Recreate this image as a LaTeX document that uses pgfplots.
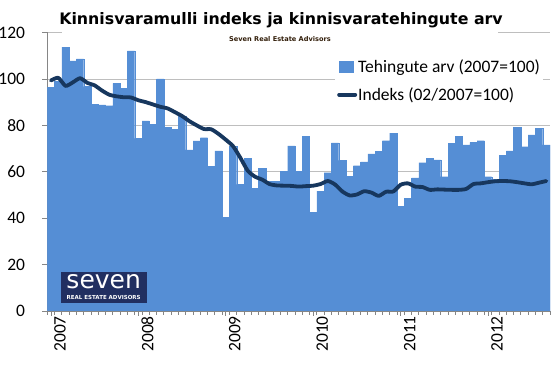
\documentclass[border=0pt]{standalone}
\usepackage{pgfplots}
\pgfplotsset{compat=1.18}
\usepackage{pgfplotstable}
\usepackage{fontspec}
\setmainfont{Carlito}
\newfontfamily\dejavu{DejaVu Sans}
\definecolor{barblue}{RGB}{85,142,213}
\definecolor{navyline}{RGB}{23,55,94}
\definecolor{gridgray}{RGB}{190,190,190}
\definecolor{axisgray}{RGB}{134,134,134}
\definecolor{logoblue}{RGB}{33,47,97}
\definecolor{subbrown}{RGB}{50,30,10}

\pgfplotstableread{
x y
0 96.3
1 99
2 113.7
3 107.8
4 108.6
5 96.7
6 89.1
7 88.8
8 88.5
9 98.1
10 96
11 112.1
12 74.4
13 81.9
14 80.5
15 100
16 79.2
17 78.4
18 84
19 69.4
20 73.3
21 74.7
22 62.3
23 69
24 40.4
25 71
26 54.6
27 65.8
28 52.9
29 61.5
30 56
31 56
32 60.3
33 71.2
34 60.2
35 75.4
36 42.4
37 51.7
38 59.6
39 72.4
40 64.9
41 58
42 62.6
43 64.2
44 67.7
45 68.7
46 73.4
47 76.6
48 45
49 48.5
50 57.4
51 63.9
52 65.8
53 65.1
54 57.9
55 72.3
56 75.4
57 71.6
58 72.7
59 73.4
60 57.9
61 56.8
62 67.2
63 69
64 79.2
65 70.8
66 75.9
67 78.7
68 71.6
}\bars

\pgfplotstableread{
x y
0 99.3
1 100.5
2 97
3 98.5
4 100.3
5 98.3
6 97.2
7 95
8 93.2
9 92.5
10 92.1
11 92
12 90.8
13 90
14 89
15 88
16 87.3
17 85.7
18 84
19 81.8
20 80
21 78.4
22 78.3
23 76.3
24 73.8
25 71
26 66
27 60.5
28 57.9
29 56.6
30 54.7
31 54.1
32 54
33 53.9
34 53.6
35 53.8
36 54
37 54.7
38 56
39 54.5
40 51.5
41 49.8
42 50.2
43 51.6
44 51
45 49.6
46 51.4
47 51.5
48 54.4
49 55
50 53.6
51 53.4
52 52.2
53 52.4
54 52.3
55 52.2
56 52.2
57 52.6
58 54.7
59 55
60 55.5
61 55.9
62 56
63 55.9
64 55.5
65 55
66 54.6
67 55.3
68 56
}\indeks

\begin{document}
\begin{tikzpicture}
\useasboundingbox (-47.3pt,-55pt) rectangle (512.7pt,311pt);
\begin{axis}[
  at={(0pt,0pt)}, anchor=south west,
  scale only axis, width=502.7pt, height=278.5pt,
  xmin=-0.5, xmax=68.5, ymin=0, ymax=120,
  axis lines*=left,
  axis line style={draw=axisgray, line width=0.8pt},
  ymajorgrids, grid style={draw=gridgray, line width=0.8pt},
  ytick={0,20,40,60,80,100,120},
  yticklabels={0,20,40,60,80,100,120},
  xtick={0,12,24,36,48,60},
  xticklabels={2007,2008,2009,2010,2011,2012},
  minor xtick={-0.5,0.5,...,68.5},
  tick align=outside,
  major tick length=5pt, minor tick length=4pt,
  tick style={draw=axisgray, line width=0.8pt},
  tick label style={font=\fontsize{17.5}{20}\selectfont, text=black},
  yticklabel style={anchor=east, inner sep=0pt, xshift=-17pt},
  xticklabel style={rotate=90, anchor=east, inner sep=0pt, yshift=-9pt},
  legend style={at={(axis description cs:0.5723,0.919)}, anchor=north west,
    draw=none, fill=white, inner xsep=2pt, inner ysep=3pt, row sep=12pt,
    font=\fontsize{17.5}{20}\selectfont, nodes={inner sep=1pt}},
  legend cell align=left,
]
\addplot[ybar, bar width=1, bar shift=0pt, fill=barblue, draw=barblue, line width=0.2pt,
  legend image code/.code={\fill[barblue] (0pt,-5.5pt) rectangle (14pt,5.5pt);}]
  table[x=x,y=y]{\bars};
\addlegendentry{Tehingute arv (2007=100)}
\addplot[navyline, line width=3.8pt, line join=round, line cap=round, smooth, tension=0.4,
  legend image code/.code={\draw[navyline, line width=4pt] (0pt,0pt) -- (16pt,0pt);}]
  table[x=x,y=y]{\indeks};
\addlegendentry{Indeks (02/2007=100)}
\end{axis}
\fill[white] (14.7pt,275pt) rectangle (450.7pt,281pt);
\node[font=\dejavu\bfseries\fontsize{15.8}{18}\selectfont, anchor=base] at (233.7pt,286pt) {Kinnisvaramulli indeks ja kinnisvaratehingute arv};
\node[font=\dejavu\bfseries\fontsize{6.6}{8}\selectfont, text=subbrown] at (232.7pt,272pt) {Seven Real Estate Advisors};
\fill[logoblue] (13.4pt,7.7pt) rectangle (99.4pt,39.3pt);
\node[text=white, inner sep=0pt, font=\dejavu\fontsize{25}{26}\selectfont, anchor=base] at (56.4pt,22.5pt) {seven};
\node[text=white, inner sep=0pt, font=\dejavu\bfseries\fontsize{5.5}{6}\selectfont, anchor=base] at (56.4pt,11pt) {REAL ESTATE ADVISORS};
\end{tikzpicture}
\end{document}
